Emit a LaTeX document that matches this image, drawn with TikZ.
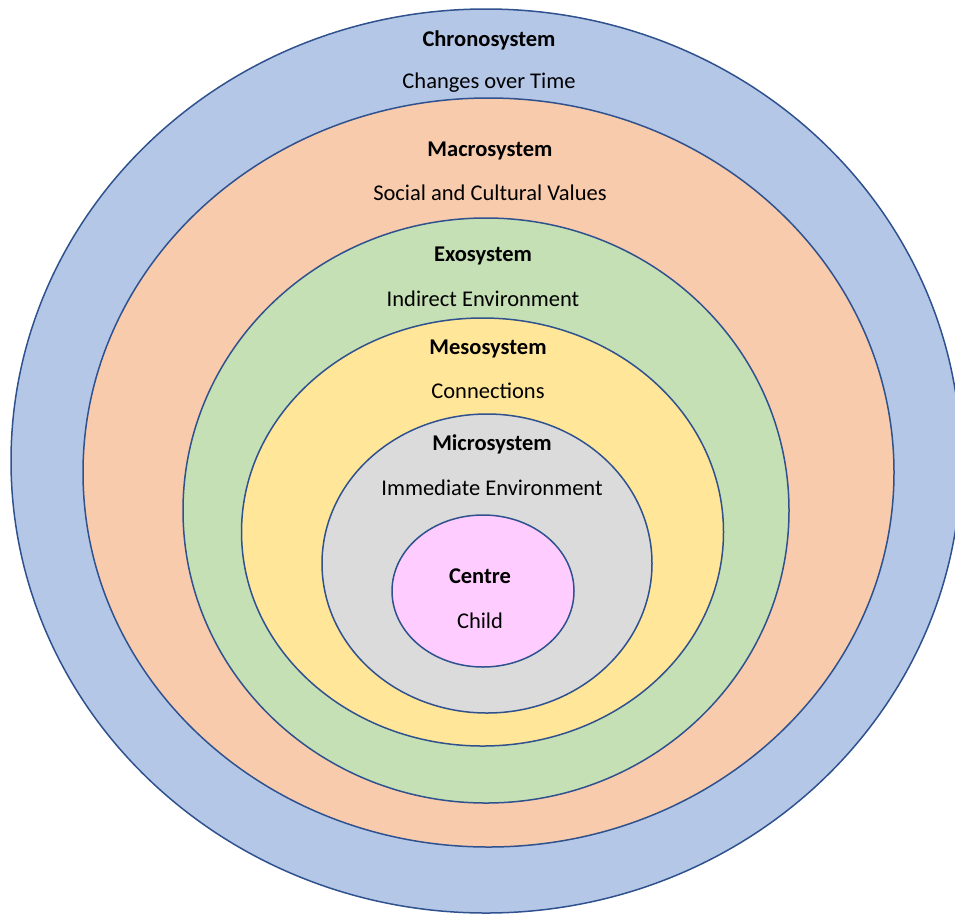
\documentclass[tikz,border=0pt]{standalone}
\usepackage{fontspec}
\setmainfont{Carlito}
\usepackage{xcolor}
\usepackage{tikz}
\usetikzlibrary{positioning}

\definecolor{chronoblue}{HTML}{B4C7E7}
\definecolor{macropeach}{HTML}{F8CBAD}
\definecolor{exogreen}{HTML}{C5E0B4}
\definecolor{mesoyellow}{HTML}{FFE699}
\definecolor{microgrey}{HTML}{DBDBDB}
\definecolor{centrepink}{HTML}{FFCCFF}
\definecolor{ringline}{HTML}{2F528F}

\tikzset{
  ring/.style={draw=ringline, line width=1.5pt},
  title/.style={font=\fontsize{22.5}{26}\selectfont\bfseries, inner sep=0pt},
  sub/.style={font=\fontsize{22.5}{26}\selectfont, inner sep=0pt}
}

\begin{document}
\begin{tikzpicture}[x=1pt, y=-1pt]

\useasboundingbox (0,0) rectangle (955,914);

%//rings, outside to inside
\foreach \cx/\cy/\rx/\ry/\col in {486/461/475/452/chronoblue,
  488.5/472.5/405.5/374.5/macropeach,
  486/510.5/303/292.5/exogreen,
  482.5/532/241/214/mesoyellow,
  487/563.5/165/149.5/microgrey,
  483/591/91/76/centrepink}
\draw [ring, fill=\col] (\cx,\cy) ellipse [x radius=\rx, y radius=\ry];

\node [title] (chrono) at (489, 40.5) {Chronosystem};
\node [sub] (chronosub) at (489, 83) {Changes over Time};

\node [title] (macro) at (490, 150.5) {Macrosystem};
\node [sub] (macrosub) at (490, 193) {Social and Cultural Values};

\node [title] (exo) at (483, 255.5) {Exosystem};
\node [sub] (exosub) at (483, 299) {Indirect Environment};

\node [title] (meso) at (488, 348.5) {Mesosystem};
\node [sub] (mesosub) at (488, 391) {Connections};

\node [title] (micro) at (492, 444.5) {Microsystem};
\node [sub] (microsub) at (492, 488) {Immediate Environment};

\node [title] (centre) at (480, 576.5) {Centre};
\node [sub] (centresub) at (480, 621) {Child};

\end{tikzpicture}
\end{document}
